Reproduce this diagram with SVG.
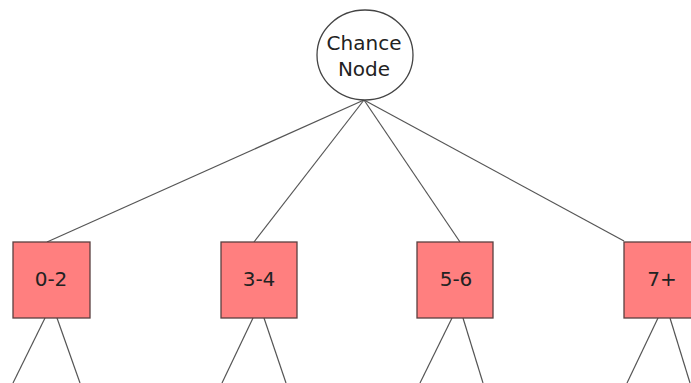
<svg xmlns="http://www.w3.org/2000/svg" width="691" height="383" viewBox="0 0 691 383">
  <style>
    .edge { stroke: #555555; stroke-width: 1.2; fill: none; }
    .chance { fill: #ffffff; stroke: #444444; stroke-width: 1.3; }
    .box { fill: #ff7f7f; stroke: #5a4040; stroke-width: 1.3; }
    .label { font-family: "DejaVu Sans", sans-serif; font-size: 20px; fill: #222222; text-anchor: middle; }
  </style>
  <rect width="691" height="383" fill="#ffffff"/>
  <g id="connectors">
    <line class="edge" x1="364" y1="100" x2="47" y2="242"/>
    <line class="edge" x1="364" y1="100" x2="254" y2="242"/>
    <line class="edge" x1="364" y1="100" x2="460" y2="242"/>
    <line class="edge" x1="364" y1="100" x2="624" y2="241"/>
    <line class="edge" x1="45" y1="318" x2="13" y2="383"/>
    <line class="edge" x1="57" y1="318" x2="80" y2="383"/>
    <line class="edge" x1="253" y1="318" x2="222" y2="383"/>
    <line class="edge" x1="264" y1="318" x2="286" y2="383"/>
    <line class="edge" x1="452" y1="318" x2="420" y2="383"/>
    <line class="edge" x1="463" y1="318" x2="483" y2="383"/>
    <line class="edge" x1="658" y1="318" x2="627" y2="383"/>
    <line class="edge" x1="670" y1="318" x2="690" y2="383"/>
  </g>
  <g id="chance-node">
    <ellipse class="chance" cx="365" cy="55" rx="48" ry="45"/>
    <text class="label" x="364" y="50">Chance</text>
    <text class="label" x="364" y="76">Node</text>
  </g>
  <g id="node-0-2">
    <rect class="box" x="13" y="242" width="77" height="76"/>
    <text class="label" x="51" y="286">0-2</text>
  </g>
  <g id="node-3-4">
    <rect class="box" x="221" y="242" width="76" height="76"/>
    <text class="label" x="259" y="286">3-4</text>
  </g>
  <g id="node-5-6">
    <rect class="box" x="417" y="242" width="76" height="76"/>
    <text class="label" x="456" y="286">5-6</text>
  </g>
  <g id="node-7plus">
    <rect class="box" x="624" y="242" width="77" height="76"/>
    <text class="label" x="662" y="286">7+</text>
  </g>
</svg>
